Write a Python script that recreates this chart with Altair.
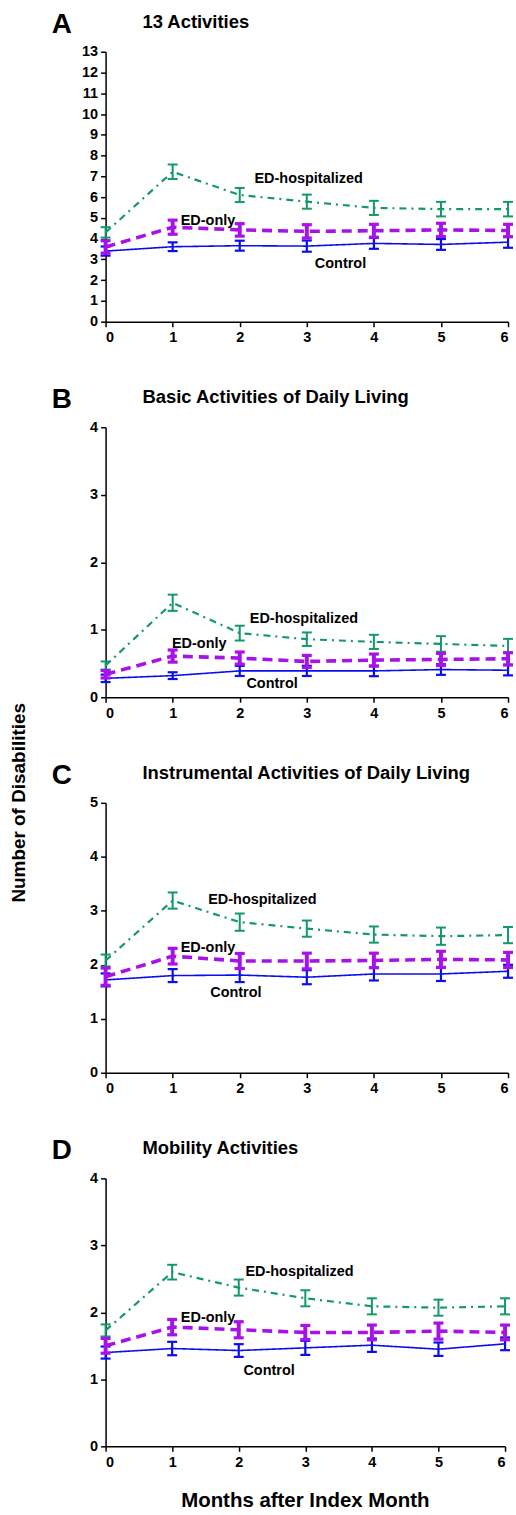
import altair as alt
import pandas as pd

months = [0, 1, 2, 3, 4, 5, 6]
groups = ["ED-hospitalized", "Control", "ED-only"]

# ---- Panel A: 13 Activities ----
a_control = [3.40, 3.61, 3.66, 3.64, 3.77, 3.72, 3.83]
a_control_err = [0.22, 0.21, 0.24, 0.27, 0.26, 0.26, 0.27]
a_edonly = [3.60, 4.55, 4.42, 4.35, 4.38, 4.42, 4.39]
a_edonly_err = [0.30, 0.34, 0.30, 0.32, 0.31, 0.32, 0.30]
a_edhosp = [4.30, 7.22, 6.10, 5.78, 5.48, 5.42, 5.42]
a_edhosp_err = [0.25, 0.35, 0.34, 0.34, 0.34, 0.35, 0.35]

# ---- Panel B: Basic ADL ----
b_control = [0.28, 0.32, 0.39, 0.39, 0.39, 0.41, 0.40]
b_control_err = [0.055, 0.05, 0.075, 0.075, 0.078, 0.078, 0.076]
b_edonly = [0.34, 0.61, 0.58, 0.53, 0.55, 0.56, 0.57]
b_edonly_err = [0.055, 0.09, 0.09, 0.09, 0.09, 0.09, 0.09]
b_edhosp = [0.47, 1.40, 0.95, 0.86, 0.82, 0.79, 0.76]
b_edhosp_err = [0.06, 0.12, 0.11, 0.10, 0.105, 0.115, 0.105]

# ---- Panel C: Instrumental ADL ----
c_control = [1.72, 1.80, 1.81, 1.77, 1.83, 1.83, 1.88]
c_control_err = [0.12, 0.12, 0.13, 0.13, 0.12, 0.13, 0.12]
c_edonly = [1.78, 2.16, 2.07, 2.07, 2.08, 2.10, 2.09]
c_edonly_err = [0.16, 0.145, 0.14, 0.145, 0.135, 0.15, 0.14]
c_edhosp = [2.08, 3.19, 2.79, 2.67, 2.56, 2.53, 2.55]
c_edhosp_err = [0.11, 0.15, 0.16, 0.15, 0.15, 0.16, 0.15]

# ---- Panel D: Mobility ----
d_control = [1.40, 1.46, 1.43, 1.47, 1.51, 1.45, 1.53]
d_control_err = [0.09, 0.10, 0.095, 0.105, 0.10, 0.10, 0.095]
d_edonly = [1.50, 1.78, 1.74, 1.70, 1.70, 1.72, 1.70]
d_edonly_err = [0.11, 0.115, 0.12, 0.105, 0.11, 0.12, 0.11]
d_edhosp = [1.73, 2.60, 2.37, 2.21, 2.09, 2.07, 2.09]
d_edhosp_err = [0.09, 0.11, 0.12, 0.12, 0.12, 0.12, 0.12]

panel_keys = ["A", "B", "C", "D"]
panel_titles = ["13 Activities", "Basic Activities of Daily Living",
                "Instrumental Activities of Daily Living", "Mobility Activities"]
panel_ymax = [13, 4, 5, 4]
panel_heights = [271, 271, 271, 269]
panel_widths = [404, 404, 404, 401]
x_title = "Months after Index Month"
y_title = "Number of Disabilities"

series = {
    "A": {"Control": (a_control, a_control_err), "ED-only": (a_edonly, a_edonly_err),
          "ED-hospitalized": (a_edhosp, a_edhosp_err)},
    "B": {"Control": (b_control, b_control_err), "ED-only": (b_edonly, b_edonly_err),
          "ED-hospitalized": (b_edhosp, b_edhosp_err)},
    "C": {"Control": (c_control, c_control_err), "ED-only": (c_edonly, c_edonly_err),
          "ED-hospitalized": (c_edhosp, c_edhosp_err)},
    "D": {"Control": (d_control, d_control_err), "ED-only": (d_edonly, d_edonly_err),
          "ED-hospitalized": (d_edhosp, d_edhosp_err)},
}

# label anchor positions (month, value) for in-plot series labels
label_names = ["ED-hospitalized", "ED-only", "Control"]
label_x = {"A": [2.22, 1.12, 3.12], "B": [2.15, 0.99, 2.10],
           "C": [1.53, 1.12, 1.56], "D": [2.10, 1.13, 2.07]}
label_y = {"A": [6.66, 4.65, 2.59], "B": [1.10, 0.73, 0.14],
           "C": [3.13, 2.24, 1.40], "D": [2.54, 1.86, 1.07]}

styles = {
    "Control": dict(color="#0a0cf2", width=1.6, dash=[1, 0], bar=2.2, cap=10, capw=2.2),
    "ED-only": dict(color="#a812e8", width=3.6, dash=[10, 6], bar=4.0, cap=10, capw=3.2),
    "ED-hospitalized": dict(color="#13986b", width=2.2, dash=[7, 5, 2, 5], bar=2.0, cap=10, capw=2.0),
}

FONT = "Liberation Sans"

rows = []
for k in panel_keys:
    for g in groups:
        vals, errs = series[k][g]
        for m, v, e in zip(months, vals, errs):
            rows.append({"panel": k, "group": g, "month": m, "mean": v,
                         "lo": v - e, "hi": v + e})
df = pd.DataFrame(rows)


def make_panel(i):
    k = panel_keys[i]
    ymax = panel_ymax[i]
    h = panel_heights[i]
    w = panel_widths[i]
    d = df[df.panel == k]
    last = i == len(panel_keys) - 1
    xaxis = alt.Axis(values=months, format="d", title=None)
    xs = alt.Scale(domain=[0, 6], nice=False, padding=0, zero=False)
    ys = alt.Scale(domain=[0, ymax], nice=False, padding=0)
    yaxis = alt.Axis(values=list(range(ymax + 1)), title=None, format="d",
                     labelOverlap=False)
    X = lambda f: alt.X(f, scale=xs, axis=xaxis)
    Y = lambda f: alt.Y(f, scale=ys, axis=yaxis)
    layers = []
    for g in groups:
        st = styles[g]
        sub = d[d.group == g]
        base = alt.Chart(sub)
        layers.append(base.mark_line(color=st["color"], strokeWidth=st["width"],
                                     strokeDash=st["dash"]).encode(
            x=X("month:Q"), y=Y("mean:Q")))
        layers.append(base.mark_rule(color=st["color"], strokeWidth=st["bar"]).encode(
            x=X("month:Q"), y=Y("lo:Q"), y2="hi:Q"))
        for fld in ["lo", "hi"]:
            layers.append(base.mark_tick(color=st["color"], thickness=st["capw"],
                                         size=st["cap"], orient="horizontal",
                                         opacity=1).encode(
                x=X("month:Q"), y=Y(f"{fld}:Q")))
    lab = pd.DataFrame({"name": label_names, "mx": label_x[k], "my": label_y[k]})
    layers.append(alt.Chart(lab).mark_text(align="left", baseline="alphabetic",
                                           font=FONT, fontWeight="bold", fontSize=14.5,
                                           color="black").encode(
        x=X("mx:Q"), y=Y("my:Q"), text="name:N"))
    letter = pd.DataFrame({"t": [k]})
    layers.append(alt.Chart(letter).mark_text(align="left", baseline="alphabetic",
                                              font=FONT, fontWeight="bold", fontSize=28,
                                              color="black").encode(
        text="t:N", x=alt.value(-54), y=alt.value(-19)))
    ttl = pd.DataFrame({"t": [panel_titles[i]]})
    layers.append(alt.Chart(ttl).mark_text(align="left", baseline="alphabetic",
                                           font=FONT, fontWeight="bold", fontSize=18.5,
                                           color="black").encode(
        text="t:N", x=alt.value(37), y=alt.value(-24)))
    if k == "C":
        yt = pd.DataFrame({"t": [y_title]})
        layers.append(alt.Chart(yt).mark_text(align="center", baseline="middle",
                                              angle=270, font=FONT, fontWeight="bold",
                                              fontSize=19, color="black").encode(
            text="t:N", x=alt.value(-87), y=alt.value(0)))
    if last:
        xt = pd.DataFrame({"t": [x_title]})
        layers.append(alt.Chart(xt).mark_text(align="center", baseline="middle",
                                              font=FONT, fontWeight="bold",
                                              fontSize=20.5, color="black").encode(
            text="t:N", x=alt.value(w / 2), y=alt.value(h + 55)))
    return alt.layer(*layers).properties(width=w, height=h)


chart = alt.vconcat(*[make_panel(i) for i in range(4)], spacing=106, bounds="flush").properties(
    padding={"left": 9, "top": 8, "right": 0, "bottom": 0}
).configure_view(stroke=None).configure_axis(
    grid=False, domainColor="black", domainWidth=1.5, tickColor="black", tickWidth=1.5,
    tickSize=5, labelFont=FONT, labelFontWeight="bold", labelFontSize=14.5,
    labelColor="black", labelPadding=3
).configure_axisX(labelPadding=4)

chart.save("out.html", embed_options={"renderer": "svg", "actions": False})
